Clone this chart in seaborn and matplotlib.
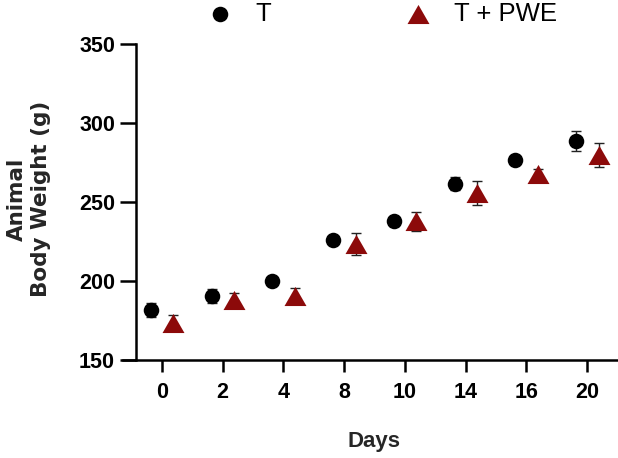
import numpy as np
import matplotlib
matplotlib.use("Agg")
import matplotlib.pyplot as plt
import seaborn as sns

days = ["0", "2", "4", "8", "10", "14", "16", "20"]
t_mean = [182, 191, 200, 226, 238, 262, 277, 289]
t_err = [4.5, 4.5, 2.5, 2.5, 3, 4, 2.5, 6.5]
pwe_mean = [174, 188, 191, 224, 238, 256, 268, 280]
pwe_err = [5, 5, 5, 7, 6, 7.5, 3, 7.5]

sns.set_style("ticks")
plt.rcParams["font.family"] = ["Liberation Sans", "DejaVu Sans"]
plt.rcParams["text.color"] = "black"
plt.rcParams["xtick.color"] = "black"
plt.rcParams["ytick.color"] = "black"
plt.rcParams["axes.edgecolor"] = "black"

fig = plt.figure(figsize=(6.18, 4.58), dpi=100)
ax = fig.add_axes([0.199, 0.2129, 0.801, 0.69])

pos = np.arange(len(days))
red = "#8c0a0a"
# wide, flat triangle like the original
tri = [(0, 1), (-1.15, -1), (1.15, -1), (0, 1)]

ax.errorbar(pos - 0.18, t_mean, yerr=t_err, fmt="none", ecolor="#222222",
            elinewidth=1, capsize=3.5, capthick=1, zorder=2)
ax.errorbar(pos + 0.19, pwe_mean, yerr=pwe_err, fmt="none", ecolor="#222222",
            elinewidth=1, capsize=3.5, capthick=1, zorder=2)
sns.scatterplot(x=pos - 0.18, y=t_mean, marker="o", s=125, color="black",
                edgecolor="black", linewidth=0, ax=ax, zorder=3, label="T")
sns.scatterplot(x=pos + 0.19, y=pwe_mean, marker=tri, s=250, color=red,
                edgecolor=red, linewidth=0, ax=ax, zorder=3, label="T + PWE")

ax.set_xlim(-0.64, 7.51)
ax.set_ylim(150, 350)
ax.set_xticks(pos)
ax.set_xticklabels(days)
ax.set_yticks([150, 200, 250, 300, 350])

sns.despine(ax=ax)
ax.spines["left"].set_position(("axes", 0.026))
for side in ["left", "bottom"]:
    ax.spines[side].set_linewidth(1.8)
ax.tick_params(axis="y", width=1.8, length=11.5, labelsize=15.5, pad=3.5)
ax.tick_params(axis="x", width=1.8, length=8.6, labelsize=15.5, pad=7)
for lbl in ax.get_xticklabels() + ax.get_yticklabels():
    lbl.set_fontweight("bold")

ax.set_xlabel("Days", fontsize=16, fontweight="bold")
ax.xaxis.label.set_va("center")
ax.xaxis.set_label_coords(0.507, -0.255)
ax.set_ylabel("Animal\nBody Weight (g)", fontsize=15.5, fontweight="bold",
              family=["DejaVu Sans"], linespacing=1.3)
ax.yaxis.label.set_va("center")
ax.yaxis.set_label_coords(-0.19, 0.511)

ax.legend(loc="center left", bbox_to_anchor=(0.335, 0.969),
          bbox_transform=fig.transFigure, ncol=2, frameon=False,
          fontsize=18.5, handlelength=1.0, handletextpad=0.9,
          columnspacing=5.2, borderpad=0, borderaxespad=0)

fig.savefig("out.png", dpi=100)
